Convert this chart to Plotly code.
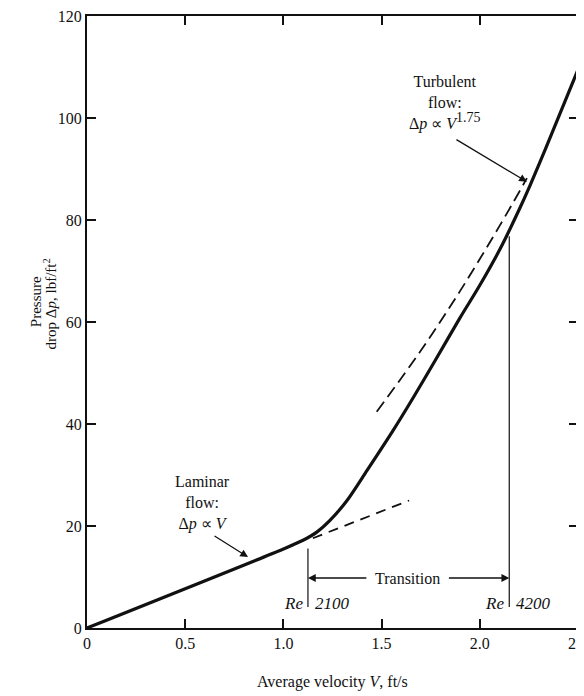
import plotly.graph_objects as go

# ── Dados ────────────────────────────────────────────────────────────────────
V_CURVA = [0, 1.0, 1.10, 1.17, 1.237, 1.324, 1.426, 1.558, 1.66, 1.772,
           1.899, 2.0, 2.103, 2.2, 2.256, 2.335, 2.5]
DP_CURVA = [0, 15.5, 17.2, 18.8, 21.1, 25.0, 30.9, 38.7, 45.1, 52.4,
            60.8, 67.2, 74.3, 82.0, 86.8, 94.0, 109.5]

V_LAMINAR_EXT = [1.15, 1.64]
DP_LAMINAR_EXT = [17.6, 25.0]

V_TURB_EXT = [1.475, 1.7, 1.9, 2.1, 2.24]
DP_TURB_EXT = [42.4, 54.4, 66.1, 78.8, 88.2]

V_RE2100 = 1.125
DP_RE2100 = [4.1, 15.6]
V_RE4200 = 2.15
DP_RE4200 = [4.1, 76.8]
DP_TRANSICAO = 9.8

X_TICKS = [0, 0.5, 1.0, 1.5, 2.0, 2.5]
X_TICKTEXT = ["0", "0.5", "1.0", "1.5", "2.0", "2.5"]
Y_TICKS = [0, 20, 40, 60, 80, 100, 120]

FONTE = "Liberation Serif, Times New Roman, serif"
PRETO = "#111111"

fig = go.Figure()

fig.add_trace(go.Scatter(
    x=V_CURVA, y=DP_CURVA, mode="lines",
    line=dict(color=PRETO, width=3.2, shape="spline", smoothing=0.8),
    hoverinfo="skip",
))
fig.add_trace(go.Scatter(
    x=V_LAMINAR_EXT, y=DP_LAMINAR_EXT, mode="lines",
    line=dict(color=PRETO, width=1.8, dash="10px,7px"),
    hoverinfo="skip",
))
fig.add_trace(go.Scatter(
    x=V_TURB_EXT, y=DP_TURB_EXT, mode="lines",
    line=dict(color=PRETO, width=1.8, dash="12px,6px", shape="spline"),
    hoverinfo="skip",
))
fig.add_trace(go.Scatter(
    x=[V_RE2100, V_RE2100], y=DP_RE2100, mode="lines",
    line=dict(color=PRETO, width=1.2), hoverinfo="skip",
))
fig.add_trace(go.Scatter(
    x=[V_RE4200, V_RE4200], y=DP_RE4200, mode="lines",
    line=dict(color=PRETO, width=1.2), hoverinfo="skip",
))

anotacoes = []

# Setas da transição
for alvo, origem in [(V_RE2100, 1.43), (V_RE4200, 1.835)]:
    anotacoes.append(dict(
        x=alvo, y=DP_TRANSICAO, ax=origem, ay=DP_TRANSICAO,
        xref="x", yref="y", axref="x", ayref="y",
        text="", showarrow=True, arrowhead=2, arrowsize=1.2,
        arrowwidth=1.3, arrowcolor=PRETO,
    ))
anotacoes.append(dict(
    x=1.634, y=DP_TRANSICAO, xref="x", yref="y", text="Transition",
    showarrow=False, font=dict(size=16),
))

# Setas laminar / turbulento
anotacoes.append(dict(
    x=2.24, y=87.5, xref="x", yref="y", ax=-72, ay=-43,
    text="", showarrow=True, arrowhead=2, arrowsize=1.2,
    arrowwidth=1.3, arrowcolor=PRETO,
))
anotacoes.append(dict(
    x=1.823, y=103, xref="x", yref="y",
    text="Turbulent<br>flow:<br>Δ<i>p</i> ∝ <i>V</i>"
         "<sup><span style='font-size:14px'>1.75</span></sup>",
    showarrow=False, font=dict(size=16),
))
anotacoes.append(dict(
    x=0.82, y=13.9, xref="x", yref="y", ax=-35, ay=-22,
    text="", showarrow=True, arrowhead=2, arrowsize=1.2,
    arrowwidth=1.3, arrowcolor=PRETO,
))
anotacoes.append(dict(
    x=0.586, y=24.6, xref="x", yref="y",
    text="Laminar<br>flow:<br>Δ<i>p</i> ∝ <i>V</i>",
    showarrow=False, font=dict(size=16),
))

# Marcações manuscritas de Re
for v, num in [(V_RE2100, "2100"), (V_RE4200, "4200")]:
    anotacoes.append(dict(
        x=v, y=4.8, xref="x", yref="y", text="<i>Re</i>",
        xanchor="right", xshift=-3, showarrow=False, font=dict(size=17),
    ))
    anotacoes.append(dict(
        x=v, y=4.8, xref="x", yref="y", text="<i>" + num + "</i>",
        xanchor="left", xshift=5, showarrow=False, font=dict(size=17),
    ))

# Títulos dos eixos
anotacoes.append(dict(
    x=0.5, y=-0.088, xref="paper", yref="paper",
    xanchor="center", yanchor="middle",
    text="Average velocity <i>V</i>, ft/s",
    showarrow=False, font=dict(size=16),
))
anotacoes.append(dict(
    x=-0.104, y=0.534, xref="paper", yref="paper", textangle=-90,
    xanchor="center", yanchor="middle",
    text="Pressure", showarrow=False, font=dict(size=15),
))
anotacoes.append(dict(
    x=-0.075, y=0.529, xref="paper", yref="paper", textangle=-90,
    xanchor="center", yanchor="middle",
    text="drop Δ<i>p</i>, lbf/ft<sup>2</sup>",
    showarrow=False, font=dict(size=15),
))

eixo = dict(
    showline=True, linewidth=2, linecolor=PRETO, mirror="ticks",
    ticks="inside", ticklen=9, tickwidth=1.5, tickcolor=PRETO,
    showgrid=False, zeroline=False, automargin=False,
    ticklabeloverflow="allow",
    tickfont=dict(size=16, color=PRETO, family=FONTE),
)

# a página tem 8 px de margem no body: a figura é 8 px menor e deslocada
fig.update_layout(
    width=576, height=688,
    paper_bgcolor="white", plot_bgcolor="white",
    font=dict(family=FONTE, color=PRETO),
    margin=dict(l=79, r=6, t=8, b=68),
    showlegend=False,
    xaxis=dict(range=[0, 2.5], tickvals=X_TICKS, ticktext=X_TICKTEXT, **eixo),
    yaxis=dict(range=[0, 120], tickvals=Y_TICKS, **eixo),
    annotations=anotacoes,
)

fig.write_html("out.html")
